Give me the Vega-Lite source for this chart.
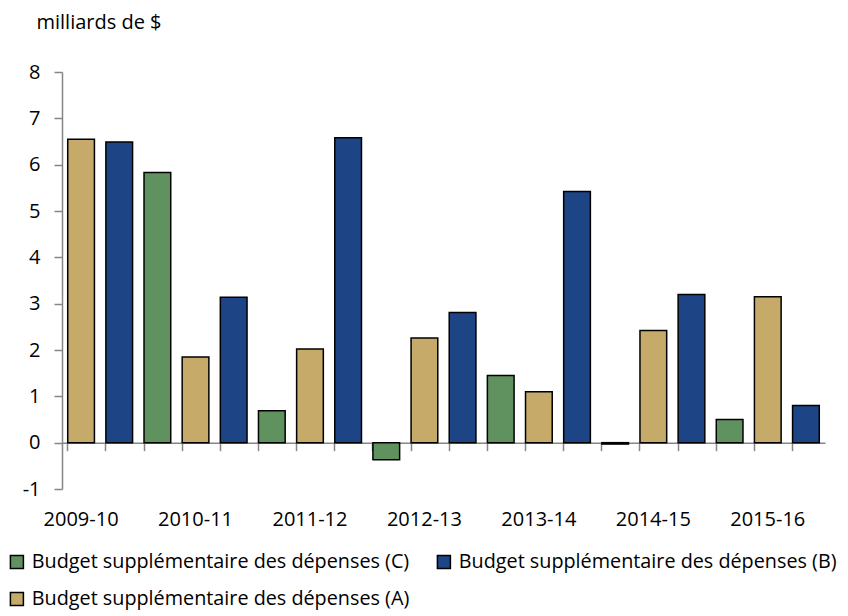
{
  "$schema": "https://vega.github.io/schema/vega-lite/v6.json",
  "autosize": {"type": "none"},
  "width": 763,
  "height": 417,
  "padding": {"left": 62, "top": 72, "right": 23, "bottom": 127},
  "config": {
    "font": "Open Sans",
    "view": {"stroke": null},
    "axis": {"grid": false, "domainColor": "#868686", "tickColor": "#868686", "domainWidth": 1.5, "tickWidth": 1.5, "labelColor": "#000000", "labelFontSize": 20, "titleFontSize": 20, "titleFontWeight": "normal", "titleColor": "#000000"},
    "legend": {"labelFontSize": 19.8, "labelColor": "#000000"}
  },
  "data": {
    "values": [
      {"slot": "2009-10 (A)", "series": "Budget supplémentaire des dépenses (A)", "value": 6.55},
      {"slot": "2009-10 (B)", "series": "Budget supplémentaire des dépenses (B)", "value": 6.49},
      {"slot": "2009-10 (C)", "series": "Budget supplémentaire des dépenses (C)", "value": 5.83},
      {"slot": "2010-11 (A)", "series": "Budget supplémentaire des dépenses (A)", "value": 1.85},
      {"slot": "2010-11 (B)", "series": "Budget supplémentaire des dépenses (B)", "value": 3.14},
      {"slot": "2010-11 (C)", "series": "Budget supplémentaire des dépenses (C)", "value": 0.69},
      {"slot": "2011-12 (A)", "series": "Budget supplémentaire des dépenses (A)", "value": 2.02},
      {"slot": "2011-12 (B)", "series": "Budget supplémentaire des dépenses (B)", "value": 6.58},
      {"slot": "2011-12 (C)", "series": "Budget supplémentaire des dépenses (C)", "value": -0.37},
      {"slot": "2012-13 (A)", "series": "Budget supplémentaire des dépenses (A)", "value": 2.26},
      {"slot": "2012-13 (B)", "series": "Budget supplémentaire des dépenses (B)", "value": 2.81},
      {"slot": "2012-13 (C)", "series": "Budget supplémentaire des dépenses (C)", "value": 1.45},
      {"slot": "2013-14 (A)", "series": "Budget supplémentaire des dépenses (A)", "value": 1.1},
      {"slot": "2013-14 (B)", "series": "Budget supplémentaire des dépenses (B)", "value": 5.42},
      {"slot": "2013-14 (C)", "series": "Budget supplémentaire des dépenses (C)", "value": -0.03},
      {"slot": "2014-15 (A)", "series": "Budget supplémentaire des dépenses (A)", "value": 2.42},
      {"slot": "2014-15 (B)", "series": "Budget supplémentaire des dépenses (B)", "value": 3.2},
      {"slot": "2014-15 (C)", "series": "Budget supplémentaire des dépenses (C)", "value": 0.5},
      {"slot": "2015-16 (A)", "series": "Budget supplémentaire des dépenses (A)", "value": 3.15},
      {"slot": "2015-16 (B)", "series": "Budget supplémentaire des dépenses (B)", "value": 0.8}
    ]
  },
  "mark": {"type": "bar", "stroke": "#000000", "strokeWidth": 1.5},
  "encoding": {
    "x": {
      "field": "slot",
      "type": "nominal",
      "sort": null,
      "scale": {"paddingInner": 0.3, "paddingOuter": 0.15},
      "axis": {
        "title": null,
        "offset": -46.33,
        "bandPosition": 0,
        "tickSize": 8,
        "labelAngle": 0,
        "labelDx": 19.08,
        "labelPadding": 59,
        "labelExpr": "slice(datum.value, -2, -1) == 'A' ? slice(datum.value, 0, 7) : ''"
      }
    },
    "y": {
      "field": "value",
      "type": "quantitative",
      "scale": {"domain": [-1, 8], "nice": false, "zero": false},
      "axis": {
        "values": [-1, 0, 1, 2, 3, 4, 5, 6, 7, 8],
        "labelExpr": "replace(datum.label, '−', '-')",
        "tickSize": 8,
        "labelPadding": 14,
        "title": "milliards de $",
        "titleAngle": 0,
        "titleAlign": "left",
        "titleBaseline": "middle",
        "titleX": -26,
        "titleY": -50
      }
    },
    "color": {
      "field": "series",
      "type": "nominal",
      "scale": {
        "domain": ["Budget supplémentaire des dépenses (C)", "Budget supplémentaire des dépenses (B)", "Budget supplémentaire des dépenses (A)"],
        "range": ["#60925F", "#1D4485", "#C5AA6A"]
      },
      "legend": {
        "title": null,
        "orient": "none",
        "direction": "horizontal",
        "legendX": -55,
        "legendY": 480,
        "columns": 2,
        "columnPadding": 24,
        "rowPadding": 16,
        "padding": 0,
        "symbolType": "square",
        "symbolSize": 169,
        "symbolStrokeColor": "#000000",
        "symbolStrokeWidth": 1.5,
        "labelOffset": 5,
        "labelLimit": 500
      }
    }
  }
}
